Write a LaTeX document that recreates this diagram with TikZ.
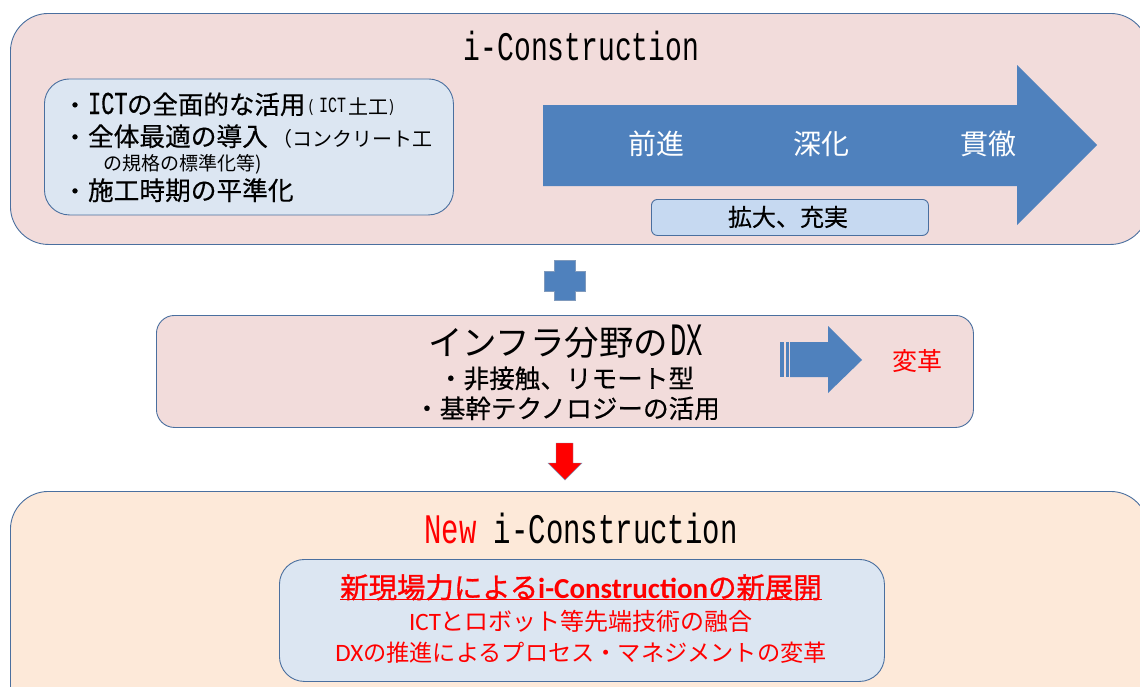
\documentclass[tikz,border=0pt]{standalone}
\usepackage{fontspec}
\newfontfamily\cjk{Noto Sans CJK JP}
\newfontfamily\cjkm[FakeBold=0.4]{Noto Sans CJK JP}
\newfontfamily\cjkb[FakeBold=1.0]{Noto Sans CJK JP}
\newfontfamily\lmono{Liberation Mono}
\newfontfamily\lmonom[FakeBold=0.4]{Liberation Mono}
\newfontfamily\carl{Carlito}
\newfontfamily\carlb{Carlito Bold}
\newcommand{\fs}[1]{\fontsize{#1}{#1}\selectfont}
\newcommand{\tall}[2]{\scalebox{#1}[1.45]{#2}}
\definecolor{pinkfill}{HTML}{F2DCDB}
\definecolor{peachfill}{HTML}{FDE9D9}
\definecolor{paleblue}{HTML}{DCE6F2}
\definecolor{midblue}{HTML}{C6D9F1}
\definecolor{arrowblue}{HTML}{4F81BD}
\definecolor{edgeblue}{HTML}{4A6F9F}
\tikzset{
 panel/.style={draw=edgeblue,line width=0.9pt,rounded corners=#1,inner sep=0pt,anchor=north west},
 txt/.style={inner sep=0pt,outer sep=0pt,text=black},
 wtxt/.style={inner sep=0pt,outer sep=0pt,text=white},
 rtxt/.style={inner sep=0pt,outer sep=0pt,text=red},
}
\begin{document}
\begin{tikzpicture}[x=1pt,y=-1pt]
\useasboundingbox (0,0) rectangle (1140,686);
\clip (0,0) rectangle (1140,686);
\fill[white] (0,0) rectangle (1140,686);
% panels
\node[panel=38pt,fill=pinkfill,minimum width=1138pt,minimum height=231pt] (top) at (10,13) {};
\node[panel=25pt,fill=paleblue,minimum width=409pt,minimum height=136pt] (list) at (44,78.5) {};
\node[panel=18pt,fill=pinkfill,minimum width=817pt,minimum height=112pt] (mid) at (156,315) {};
\node[panel=38pt,fill=peachfill,minimum width=1138pt,minimum height=260pt] (bot) at (10,491) {};
\node[panel=25pt,fill=paleblue,minimum width=605pt,minimum height=122pt] (newbox) at (279,559) {};
% large arrow
\fill[arrowblue] (543,105) -- (1017,105) -- (1017,65) -- (1097,145) -- (1017,225) -- (1017,186) -- (543,186) -- cycle;
\node[panel=6pt,fill=midblue,minimum width=277pt,minimum height=36pt] (expand) at (651,199) {};
% plus
\fill[arrowblue,draw=edgeblue!70,line width=0.4pt] (554,260) -- (575,260) -- (575,271) -- (585,271) -- (585,291) -- (575,291) -- (575,300) -- (554,300) -- (554,291) -- (544,291) -- (544,271) -- (554,271) -- cycle;
% striped arrow
\fill[arrowblue] (790,342) -- (828,342) -- (828,326) -- (862,360) -- (828,393) -- (828,377) -- (790,377) -- cycle;
\fill[arrowblue] (780,342) rectangle (784,377);
\fill[arrowblue] (785.5,342) rectangle (789,377);
% red arrow
\fill[red,draw=edgeblue!70,line width=0.4pt] (556,443) -- (573,443) -- (573,463) -- (582,463) -- (565,480) -- (548,463) -- (556,463) -- cycle;
% top texts
\node[txt,anchor=base] (t1) at (581.5,60) {\tall{1}{\lmono\fs{28}i-Construction}};
\node[txt,anchor=base west] (l1a) at (63,114) {\cjkm\fs{24}・};
\node[txt,anchor=base west] (l1b) at (88,114) {\tall{1}{\lmonom\fs{22}ICT}};
\node[txt,anchor=base west] (l1d) at (127,114) {\cjkm\fs{25.5}の全面的な活用};
\node[txt,anchor=base west] (l1c) at (308,112) {\cjk\fs{16}(};
\node[txt,anchor=base west] (l1e) at (319,112) {\tall{1}{\lmono\fs{15}ICT}};
\node[txt,anchor=base west] (l1f) at (348,114) {\cjk\fs{20}土工};
\node[txt,anchor=base west] (l1g) at (389,112) {\cjk\fs{16})};
\node[txt,anchor=base west] (l2a) at (63,146) {\cjkm\fs{24}・};
\node[txt,anchor=base west] (l2b) at (88,146) {\cjkm\fs{25.7}全体最適の導入};
\node[txt,anchor=base west] (l2c) at (272,146) {\cjk\fs{20}（コンクリート工};
\node[txt,anchor=base west] (l3) at (103,170) {\cjk\fs{19}の規格の標準化等)};
\node[txt,anchor=base west] (l4a) at (63,200) {\cjkm\fs{24}・};
\node[txt,anchor=base west] (l4b) at (88,200) {\cjkm\fs{25.7}施工時期の平準化};
\node[wtxt,font=\cjk\fs{28}] (a1) at (656,144) {前進};
\node[wtxt,font=\cjk\fs{28}] (a2) at (821,144) {深化};
\node[wtxt,font=\cjk\fs{28}] (a3) at (988,144) {貫徹};
\node[txt,font=\cjkm\fs{24}] (e) at (788,217) {拡大、充実};
% middle texts
\node[txt,anchor=base west] (m1) at (428,355) {\cjk\fs{34.5}インフラ分野の};
\node[txt,anchor=base west] (m1b) at (670,355) {\tall{0.85}{\lmono\fs{32}DX}};
\node[txt,anchor=base,font=\cjkm\fs{25.6}] (m2) at (566,388) {・非接触、リモート型};
\node[txt,anchor=base,font=\cjkm\fs{25.6}] (m3) at (567,418) {・基幹テクノロジーの活用};
\node[rtxt,font=\cjk\fs{25}] (m4) at (917,361) {変革};
% bottom texts
\node[txt,anchor=base] (b1) at (581,543) {\tall{1}{\lmono\fs{29}\textcolor{red}{New} i-Construction}};
\node[rtxt,anchor=base] (b2) at (581,598) {\underline{\smash{\cjkb\fs{28.4}新現場力による\carlb\fs{29}i-Construction\cjkb\fs{28.4}の新展開}}};
\node[rtxt,anchor=base] (b3) at (581,630) {\carl\fs{25}ICT\cjk\fs{24}とロボット等先端技術の融合};
\node[rtxt,anchor=base] (b4) at (581,661) {\carl\fs{25}DX\cjk\fs{23.2}の推進によるプロセス・マネジメントの変革};
\end{tikzpicture}
\end{document}
